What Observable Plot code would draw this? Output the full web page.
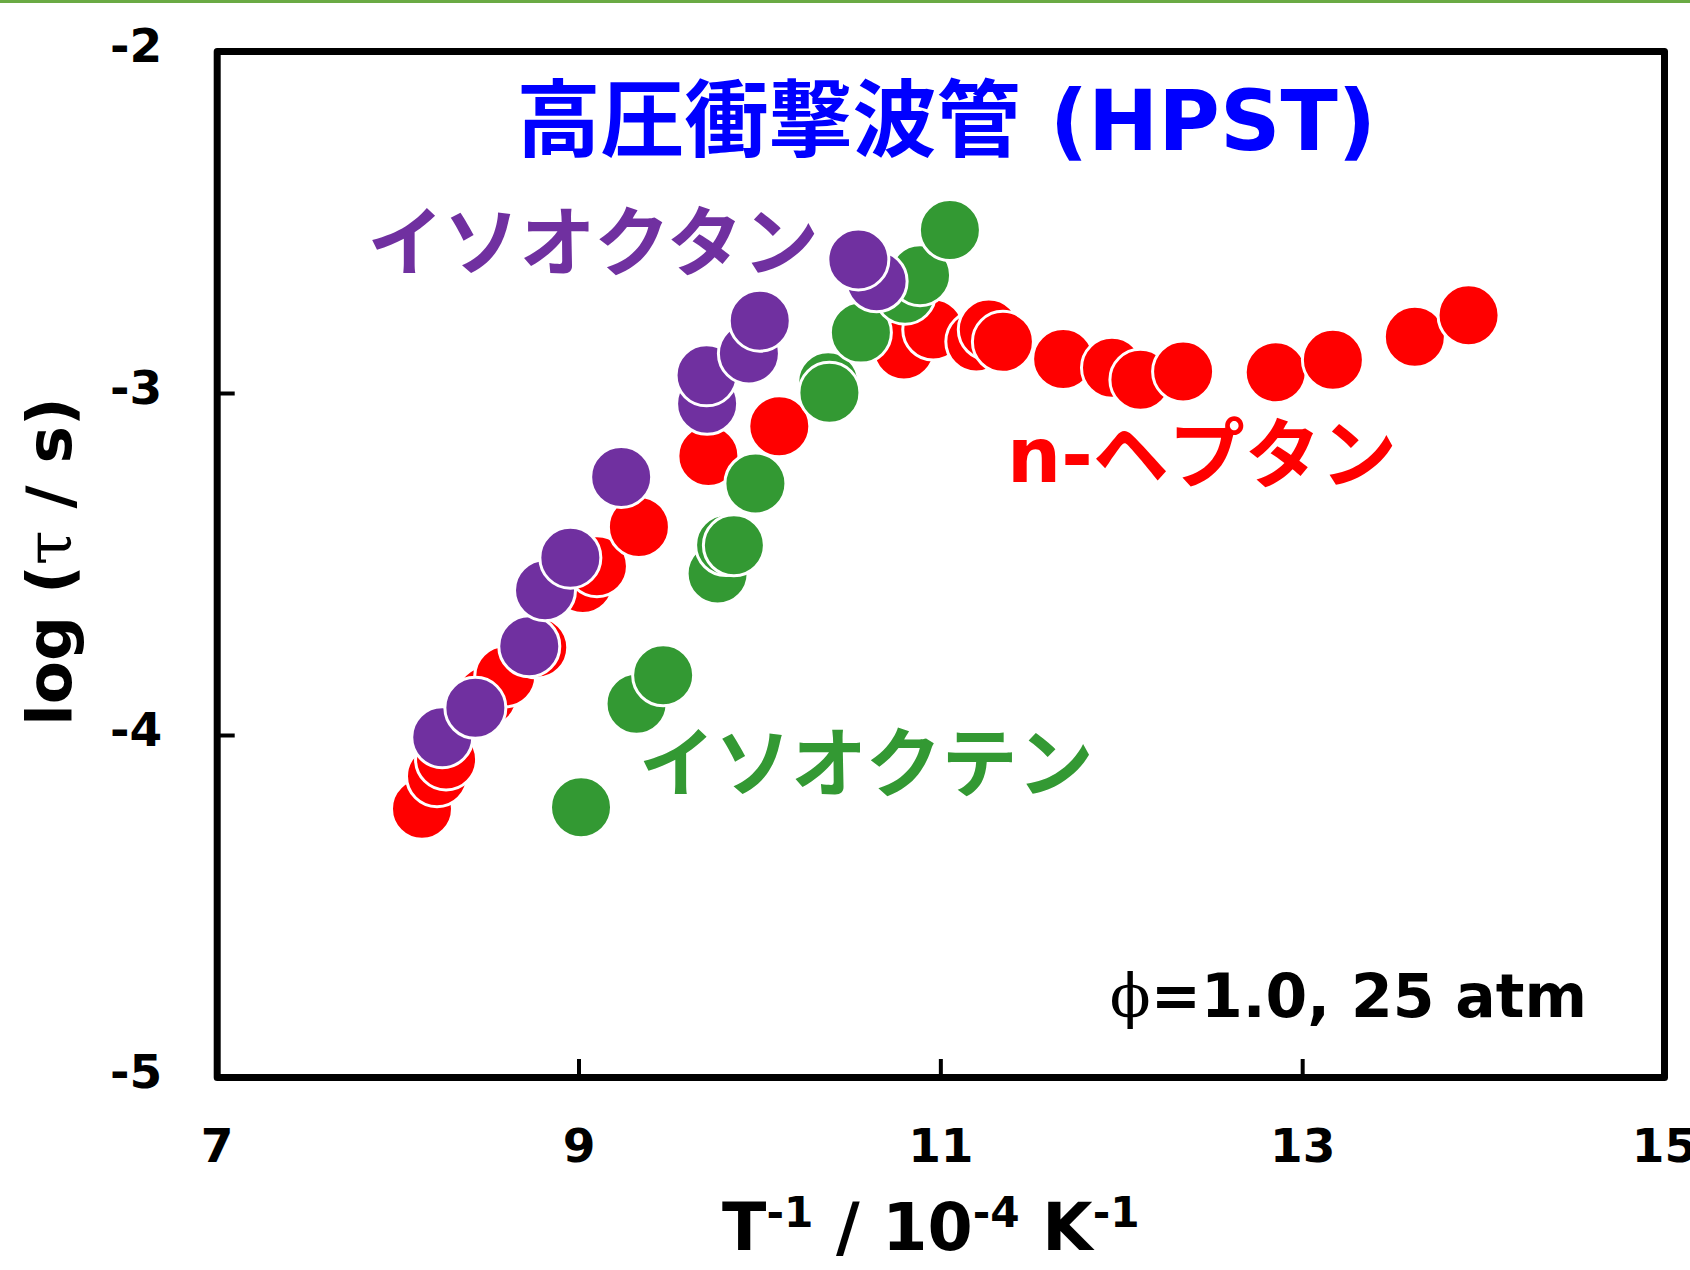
<!DOCTYPE html>
<html><head><meta charset="utf-8">
<script src="https://cdn.jsdelivr.net/npm/d3@7"></script>
<script src="https://cdn.jsdelivr.net/npm/@observablehq/plot@0.6"></script>
<style>
html,body{margin:0;padding:0;background:#fff;}
#chart{position:absolute;left:0;top:0;}
#topline{position:absolute;left:0;top:0;width:1690px;height:3px;background:#6aaa44;}
</style></head><body>
<div id="chart"></div><div id="topline"></div>
<script>
// n-heptane (red)
const heptaneX = [8.132, 8.215, 8.265, 8.489, 8.592, 8.769, 9.021, 9.099, 9.331, 9.715, 10.107, 10.796, 10.958, 11.196, 11.265, 11.343, 11.676, 11.946, 12.103, 12.339, 12.851, 13.167, 13.620, 13.917];
const heptaneY = [-4.214, -4.119, -4.070, -3.886, -3.827, -3.743, -3.554, -3.505, -3.390, -3.183, -3.096, -2.871, -2.813, -2.848, -2.813, -2.849, -2.899, -2.925, -2.960, -2.936, -2.938, -2.901, -2.834, -2.771];
// isooctene (green)
const isocteneX = [9.011, 9.318, 9.465, 9.766, 9.813, 9.856, 9.975, 10.377, 10.384, 10.558, 10.802, 10.885, 11.050];
const isocteneY = [-4.210, -3.907, -3.824, -3.526, -3.443, -3.444, -3.263, -2.967, -2.998, -2.822, -2.708, -2.654, -2.522];
// isooctane (purple)
const isooctaneX = [8.244, 8.427, 8.725, 8.812, 8.952, 9.233, 9.708, 9.705, 9.939, 9.999, 10.645, 10.544];
const isooctaneY = [-4.005, -3.919, -3.739, -3.575, -3.480, -3.244, -3.030, -2.947, -2.883, -2.787, -2.672, -2.608];

const seriesNames = ["n-ヘプタン", "イソオクテン", "イソオクタン"];
const seriesColors = ["#ff0000", "#339933", "#7030a0"];
const xTicks = [7, 9, 11, 13, 15];
const yTicks = [-5, -4, -3, -2];
const xInnerTicks = [9, 11, 13];
const yInnerTicks = [-4, -3];
const xLabel = "T-1 / 10-4 K-1";
const yLabel = "log (τ / s)";
const title = "高圧衝撃波管 (HPST)";
const condition = "ϕ=1.0, 25 atm";

const rows = [];
[[heptaneX, heptaneY], [isocteneX, isocteneY], [isooctaneX, isooctaneY]].forEach(([xs, ys], i) => {
  xs.forEach((x, j) => rows.push({series: seriesNames[i], x, y: ys[j]}));
});

const W = 1690, H = 1270;
const mL = 216.7, mR = 26, mT = 51, mB = 193;
const latin = "DejaVu Sans, 'Noto Sans CJK JP', sans-serif";
const fmt = d => String(d);

const chart = Plot.plot({
  width: W, height: H,
  marginLeft: mL, marginRight: mR, marginTop: mT, marginBottom: mB,
  style: {background: "white", fontFamily: latin},
  x: {domain: [7, 15], ticks: xTicks},
  y: {domain: [-5, -2], ticks: yTicks},
  color: {domain: seriesNames, range: seriesColors},
  marks: [
    Plot.dot(rows, {x: "x", y: "y", r: 30.5, fill: "series", stroke: "white", strokeWidth: 3}),
    Plot.frame({stroke: "black", strokeWidth: 7, strokeLinejoin: "round"}),
    Plot.tickX(xInnerTicks, {x: d => d, stroke: "black", strokeWidth: 4, insetTop: H - mT - mB - 18}),
    Plot.tickY(yInnerTicks, {y: d => d, stroke: "black", strokeWidth: 4, insetRight: W - mL - mR - 18}),
    Plot.axisX(xTicks, {tickSize: 0, tickPadding: 51, fontSize: 47, fontWeight: "bold", fill: "black", label: null, tickFormat: fmt}),
    Plot.axisY(yTicks, {tickSize: 0, tickPadding: 55, fontSize: 47, fontWeight: "bold", fill: "black", dy: -5, label: null, tickFormat: fmt}),
    Plot.text([xLabel], {frameAnchor: "bottom", dy: 152, dx: -10, fontSize: 65, fontWeight: "bold", fill: "black", lineAnchor: "middle", textAnchor: "middle"}),
    Plot.text([yLabel], {frameAnchor: "left", dx: -166, dy: -3, rotate: -90, fontSize: 63, fontWeight: "bold", fill: "black", lineAnchor: "middle", textAnchor: "middle"}),
    Plot.text([title], {x: 11.03, y: -2.21, fontSize: 84, fontWeight: "bold", fill: "#0000ff", lineAnchor: "middle"}),
    Plot.text(["イソオクタン"], {x: 9.078, y: -2.567, fontSize: 76, fontWeight: "bold", fill: "#7030a0", lineAnchor: "middle", fontFamily: "'Noto Sans CJK JP'"}),
    Plot.text(["n-ヘプタン"], {x: 12.443, y: -3.187, fontSize: 76, fontWeight: "bold", fill: "#ff0000", lineAnchor: "middle"}),
    Plot.text(["イソオクテン"], {x: 10.587, y: -4.091, fontSize: 76, fontWeight: "bold", fill: "#339933", lineAnchor: "middle", fontFamily: "'Noto Sans CJK JP'"}),
    Plot.text([condition], {x: 14.572, y: -4.766, textAnchor: "end", fontSize: 60, fontWeight: "bold", fill: "black", lineAnchor: "middle"})
  ]
});

// rich text: superscripts and Greek glyphs
const svg = d3.select(chart.tagName === "svg" ? chart : chart.querySelector("svg"));
function rebuild(str, parts) {
  svg.selectAll("text").filter(function() { return this.textContent === str; }).each(function() {
    const t = d3.select(this);
    t.text(null);
    parts.forEach(p => {
      const s = t.append("tspan").text(p.t);
      if (p.sup) s.attr("font-size", "0.65em").attr("baseline-shift", "55%");
      if (p.greek) s.attr("font-family", "'DejaVu Serif', serif").attr("font-weight", "normal");
    });
  });
}
rebuild(xLabel, [{t: "T"}, {t: "-1", sup: true}, {t: " / 10"}, {t: "-4", sup: true}, {t: " K"}, {t: "-1", sup: true}]);
rebuild(yLabel, [{t: "log ("}, {t: "τ", greek: true}, {t: " / s)"}]);
rebuild(condition, [{t: "ϕ", greek: true}, {t: "=1.0, 25 atm"}]);
document.getElementById("chart").appendChild(chart);
</script>
</body></html>
